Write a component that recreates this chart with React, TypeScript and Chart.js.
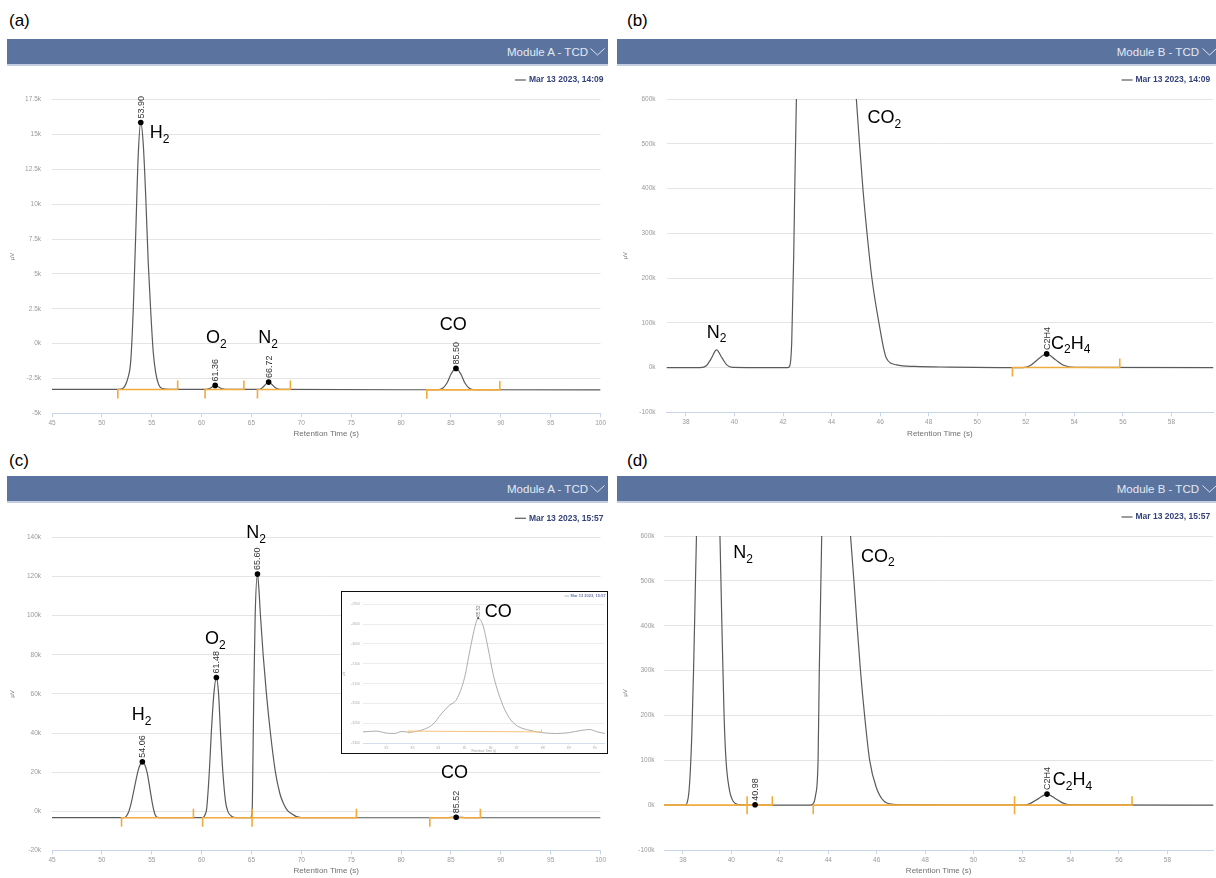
import React, { useEffect, useRef } from 'react';
import { Chart, registerables } from 'chart.js';

Chart.register(...registerables);

const FONT = '"Liberation Sans", Arial, Helvetica, sans-serif';

// ---------------- axes ----------------
const xTicksAC = [45, 50, 55, 60, 65, 70, 75, 80, 85, 90, 95, 100];
const xTicksBD = [38, 40, 42, 44, 46, 48, 50, 52, 54, 56, 58];
const xTicksInset = [82, 83, 84, 85, 86, 87, 88, 89, 90];

const yTicksA = [-5000, -2500, 0, 2500, 5000, 7500, 10000, 12500, 15000, 17500];
const yLabelsA = ['-5k', '-2.5k', '0k', '2.5k', '5k', '7.5k', '10k', '12.5k', '15k', '17.5k'];
const yTicksBD = [-100000, 0, 100000, 200000, 300000, 400000, 500000, 600000];
const yLabelsBD = ['-100k', '0k', '100k', '200k', '300k', '400k', '500k', '600k'];
const yTicksC = [-20000, 0, 20000, 40000, 60000, 80000, 100000, 120000, 140000];
const yLabelsC = ['-20k', '0k', '20k', '40k', '60k', '80k', '100k', '120k', '140k'];
const yTicksInset = [-3300, -3250, -3200, -3150, -3100, -3050, -3000, -2950];
const yLabelsInset = ['-3300', '-3250', '-3200', '-3150', '-3100', '-3050', '-3000', '-2950'];

// ---------------- panel (a) ----------------
const traceA = [
  [45, -3290], [51.5, -3290], [52.0, -3250], [52.3, -3050], [52.6, -2500], [52.9, -1200],
  [53.15, 2500], [53.4, 8000], [53.65, 13600], [53.9, 15860], [54.15, 14300], [54.4, 10500],
  [54.65, 5800], [54.9, 2300], [55.15, -600], [55.4, -2100], [55.7, -2950], [56.1, -3230],
  [56.8, -3290], [60.4, -3290], [60.8, -3230], [61.1, -3090], [61.36, -3000], [61.65, -3090],
  [62.0, -3230], [62.4, -3290], [65.8, -3290], [66.1, -3160], [66.4, -2940], [66.72, -2760],
  [67.05, -2940], [67.4, -3160], [67.9, -3290], [83.6, -3310], [84.2, -3180], [84.6, -2830],
  [85.0, -2200], [85.5, -1780], [86.0, -2200], [86.4, -2830], [86.8, -3180], [87.4, -3310],
  [100, -3320],
];
const peaksA = [[53.9, 15860], [61.36, -3000], [66.72, -2760], [85.5, -1780]];
const peakLabelsA = ['53.90', '61.36', '66.72', '85.50'];
const segmentsA = [
  [51.6, -3290, 57.6, -3290], [60.35, -3290, 64.24, -3290],
  [65.6, -3290, 68.9, -3290], [82.58, -3310, 89.9, -3320],
];
const namesA = ['H_2', 'O_2', 'N_2', 'CO'];
const namesAX = [54.8, 60.43, 65.68, 83.87];
const namesAY = [15100, 380, 380, 1320];

// ---------------- panel (b) ----------------
const traceB = [
  [37.2, 0], [38.59, 0], [38.84, 4000], [39.04, 20000], [39.26, 39500], [39.48, 22000],
  [39.68, 6000], [39.93, 300], [40.52, 0], [42.2, 0], [42.28, 4000], [42.36, 60000],
  [42.44, 250000], [42.49, 420000], [42.55, 600000], [42.69, 900000], [43.09, 1100000],
  [43.78, 1200000], [44.37, 1050000], [44.77, 800000], [45.02, 600000], [45.15, 500000],
  [45.29, 400000], [45.46, 300000], [45.66, 200000], [45.95, 100000], [46.25, 22000],
  [46.68, 6000], [47.43, 2500], [48.92, 1000], [50.89, 0], [51.88, 0], [52.17, 4000],
  [52.47, 17000], [52.86, 30500], [53.21, 18000], [53.56, 5000], [54.0, 300], [59.8, 0],
];
const peaksB = [[52.86, 30500]];
const peakLabelsB = ['C2H4'];
const segmentsB = [[51.45, 0, 55.87, 0]];
const namesB = ['N_2', 'CO_2', 'C_2H_4'];
const namesBX = [38.86, 45.48, 53.04];
const namesBY = [78000, 557000, 53000];

// ---------------- panel (c) ----------------
const traceC = [
  [45, -3250], [52.2, -3250], [52.4, -2800], [52.67, -500], [52.95, 4500], [53.3, 13000],
  [53.62, 20500], [53.85, 24000], [54.06, 25300], [54.28, 24000], [54.55, 19500],
  [54.85, 10500], [55.1, 3000], [55.3, -1200], [55.55, -3000], [56.0, -3250],
  [60.1, -3250], [60.25, -2700], [60.4, -1000], [60.5, 1000], [60.77, 20000], [60.97, 40000],
  [61.23, 60000], [61.48, 68400], [61.7, 60000], [61.9, 40000], [62.13, 20000], [62.4, 5000],
  [62.63, 0], [63.0, -2500], [63.5, -3200], [64.5, -3250], [64.95, -3250], [65.03, -1500],
  [65.07, 0], [65.13, 20000], [65.23, 60000], [65.37, 100000], [65.6, 121200],
  [65.75, 113000], [65.9, 100000], [66.17, 80000], [66.5, 60000], [66.9, 40000],
  [67.4, 20000], [67.85, 9000], [68.23, 3700], [68.6, 500], [69.07, -1400], [69.5, -2700],
  [70.0, -3200], [70.5, -3250], [83.5, -3265], [84.1, -3227], [84.7, -3189], [85.2, -3068],
  [85.52, -2985], [85.9, -3060], [86.4, -3193], [87.0, -3256], [88, -3270], [100, -3270],
];
const peaksC = [[54.06, 25300], [61.48, 68400], [65.6, 121200], [85.52, -2985]];
const peakLabelsC = ['54.06', '61.48', '65.60', '85.52'];
const segmentsC = [
  [51.97, -3250, 59.18, -3250], [60.1, -3250, 65.06, -3250],
  [65.06, -3250, 75.52, -3260], [82.88, -3265, 87.95, -3270],
];
const namesC = ['H_2', 'O_2', 'N_2', 'CO'];
const namesCX = [53.0, 60.33, 64.47, 84.0];
const namesCY = [49000, 88000, 142000, 19500];

// ---------------- inset (c) ----------------
const traceInset = [
  [81.1, -3272], [81.6, -3270], [82.0, -3275], [82.3, -3276], [82.6, -3271], [82.9, -3273],
  [83.2, -3270], [83.5, -3264], [83.8, -3252], [84.1, -3227], [84.4, -3206], [84.7, -3189],
  [85.0, -3135], [85.2, -3068], [85.4, -3006], [85.52, -2985], [85.7, -3002], [85.9, -3060],
  [86.1, -3127], [86.4, -3193], [86.7, -3235], [87.0, -3256], [87.5, -3268], [88.0, -3274],
  [88.5, -3276], [89.0, -3274], [89.5, -3268], [89.8, -3266], [90.1, -3272], [90.4, -3276],
];
const peaksInset = [[85.52, -2985]];
const peakLabelsInset = ['85.52'];
const segmentsInset = [[82.86, -3270, 87.95, -3272]];
const namesInset = ['CO'];
const namesInsetX = [85.77];
const namesInsetY = [-2969];

// ---------------- panel (d) ----------------
const traceD = [
  [37.2, 0], [38.1, 0], [38.18, 6000], [38.25, 30000], [38.31, 80000], [38.37, 160000],
  [38.44, 300000], [38.5, 450000], [38.56, 600000], [38.69, 850000], [39.04, 1000000],
  [39.33, 900000], [39.48, 700000], [39.53, 600000], [39.61, 400000], [39.7, 200000],
  [39.78, 100000], [39.9, 40000], [40.08, 8000], [40.32, 1000], [40.62, 0], [43.25, 0],
  [43.36, 2000], [43.47, 20000], [43.58, 100000], [43.63, 300000], [43.73, 600000],
  [43.9, 850000], [44.29, 1000000], [44.69, 780000], [44.92, 600000], [45.06, 500000],
  [45.19, 400000], [45.33, 300000], [45.5, 200000], [45.71, 100000], [45.98, 40000],
  [46.28, 10000], [46.67, 2000], [47.47, 500], [48.96, 0], [52.03, 0], [52.33, 3500],
  [52.68, 14500], [53.03, 24600], [53.37, 15000], [53.67, 5000], [53.99, 500], [60.0, 0],
];
const peaksD = [[40.98, 1000], [53.03, 24600]];
const peakLabelsD = ['40.98', 'C2H4'];
const segmentsD = [
  [37.0, 0, 40.65, 0], [40.65, 0, 41.69, 0], [43.38, 0, 51.69, 0], [51.69, 0, 56.54, 0],
];
const namesD = ['N_2', 'CO_2', 'C_2H_4'];
const namesDX = [40.08, 45.35, 53.27];
const namesDY = [561000, 554000, 56000];

// ---------------- helpers ----------------
function parseName(s: string): [string, boolean][] {
  const out: [string, boolean][] = [];
  for (let i = 0; i < s.length; i++) {
    if (s[i] === '_') { out.push([s[i + 1], true]); i++; } else out.push([s[i], false]);
  }
  return out;
}

const baseStyle = {
  traceColor: '#5a5a5a', traceWidth: 1.2, orange: '#f2aa3c', orangeW: 1.6, segTick: 9,
  dotR: 2.8, dotColor: '#000', peakColor: '#333', peakFont: `9px ${FONT}`, peakGap: 4,
  nameFont: `18px ${FONT}`, subFont: `12px ${FONT}`, subDy: 6.3,
  gridColor: '#e4e4e4', axisColor: '#c9d5e8', tickColor: '#9a9a9a', titleColor: '#707070',
  tickSize: 6.5, xTitleSize: 8, yTitleSize: 6, xTickLen: 4, xTickPad: 2,
  legendFont: `bold 8.5px ${FONT}`, legendColor: '#34427a', dashColor: '#666', dashW: 1.3,
  dashLen: 11, dashGap: 3,
};

function annotPlugin(spec: any, L: any) {
  return {
    id: 'chromAnnot',
    afterDatasetDraw(chart: any, args: any) {
      if (args.index !== 0) return;
      const { ctx, chartArea: ca, scales } = chart;
      const xs = scales.x, ys = scales.y;
      ctx.save();
      ctx.beginPath();
      ctx.rect(ca.left, ca.top, ca.right - ca.left, ca.bottom - ca.top);
      ctx.clip();
      ctx.strokeStyle = L.orange;
      ctx.lineWidth = L.orangeW;
      spec.segments.forEach(([x1, y1, x2, y2]: number[]) => {
        const a = xs.getPixelForValue(x1), b = ys.getPixelForValue(y1);
        const c = xs.getPixelForValue(x2), d = ys.getPixelForValue(y2);
        ctx.beginPath();
        ctx.moveTo(a, b); ctx.lineTo(c, d);
        ctx.moveTo(a, b - 0.7); ctx.lineTo(a, b + L.segTick);
        ctx.moveTo(c, d + 0.7); ctx.lineTo(c, d - L.segTick);
        ctx.stroke();
      });
      ctx.restore();
    },
    afterDatasetsDraw(chart: any) {
      const { ctx, chartArea: ca, scales } = chart;
      const xs = scales.x, ys = scales.y;
      ctx.save();
      ctx.textBaseline = 'middle';
      ctx.textAlign = 'left';
      ctx.fillStyle = L.peakColor;
      ctx.font = L.peakFont;
      spec.peaks.forEach(([x, y]: number[], i: number) => {
        const px = xs.getPixelForValue(x), py = ys.getPixelForValue(y);
        ctx.save();
        ctx.translate(px, py - L.peakGap);
        ctx.rotate(-Math.PI / 2);
        ctx.fillText(spec.peakLabels[i], 0, 0.5);
        ctx.restore();
      });
      ctx.fillStyle = '#000';
      spec.names.forEach((n: string, i: number) => {
        let px = xs.getPixelForValue(spec.namesX[i]);
        const py = ys.getPixelForValue(spec.namesY[i]);
        parseName(n).forEach(([ch, sub]) => {
          ctx.font = sub ? L.subFont : L.nameFont;
          ctx.fillText(ch, px, sub ? py + L.subDy : py);
          px += ctx.measureText(ch).width;
        });
      });
      ctx.font = L.legendFont;
      ctx.fillStyle = L.legendColor;
      ctx.textAlign = 'right';
      const lx = ca.right + L.legendDx, ly = ca.top - L.legendDy;
      ctx.fillText(spec.legend, lx, ly);
      const tw = ctx.measureText(spec.legend).width;
      ctx.strokeStyle = L.dashColor;
      ctx.lineWidth = L.dashW;
      ctx.beginPath();
      ctx.moveTo(lx - tw - L.dashGap - L.dashLen, ly);
      ctx.lineTo(lx - tw - L.dashGap, ly);
      ctx.stroke();
      ctx.restore();
    },
  };
}

function buildConfig(spec: any, L: any): any {
  return {
    type: 'line',
    data: {
      datasets: [
        {
          label: spec.legend,
          data: spec.trace.map(([x, y]: number[]) => ({ x, y })),
          borderColor: L.traceColor, borderWidth: L.traceWidth,
          pointRadius: 0, pointHoverRadius: 0, cubicInterpolationMode: 'monotone',
          fill: false, order: 1,
        },
        {
          label: 'peaks',
          data: spec.peaks.map(([x, y]: number[]) => ({ x, y })),
          showLine: false, pointRadius: L.dotR, pointHoverRadius: L.dotR,
          pointBackgroundColor: L.dotColor, pointBorderColor: L.dotColor, pointBorderWidth: 0,
          order: 0,
        },
      ],
    },
    options: {
      animation: false, responsive: false, maintainAspectRatio: false, devicePixelRatio: 1,
      events: [],
      layout: { padding: { left: 0, top: L.padTop, right: L.padRight, bottom: 0 } },
      plugins: { legend: { display: false }, tooltip: { enabled: false } },
      scales: {
        x: {
          type: 'linear', min: spec.xMin, max: spec.xMax,
          afterBuildTicks: (sc: any) => { sc.ticks = spec.xTicks.map((v: number) => ({ value: v })); },
          afterFit: (sc: any) => { sc.height = L.xAxisH; },
          ticks: {
            color: L.tickColor, font: { family: FONT, size: L.tickSize }, padding: L.xTickPad,
            maxRotation: 0, minRotation: 0, autoSkip: false, callback: (v: number) => String(v),
          },
          grid: { drawOnChartArea: false, drawTicks: true, tickLength: L.xTickLen, color: L.axisColor, lineWidth: 1 },
          border: { display: true, color: L.axisColor, width: 1 },
          title: {
            display: true, text: 'Retention Time (s)', color: L.titleColor,
            font: { family: FONT, size: L.xTitleSize }, padding: { top: 0, bottom: L.xTitlePad },
          },
        },
        y: {
          type: 'linear', min: spec.yMin, max: spec.yMax,
          afterBuildTicks: (sc: any) => { sc.ticks = spec.yTicks.map((v: number) => ({ value: v })); },
          afterFit: (sc: any) => { sc.width = L.yAxisW; },
          ticks: {
            color: L.tickColor, font: { family: FONT, size: L.tickSize }, padding: L.yLabelPad,
            callback: (v: number) => { const i = spec.yTicks.indexOf(v); return i >= 0 ? spec.yLabels[i] : ''; },
          },
          grid: { color: L.gridColor, lineWidth: 1, drawTicks: false },
          border: { display: false },
          title: {
            display: true, text: 'µV', color: L.titleColor,
            font: { family: FONT, size: L.yTitleSize }, padding: { top: L.yTitlePad, bottom: 0 },
          },
        },
      },
    },
    plugins: [annotPlugin(spec, L)],
  };
}

function ChromCanvas({ spec, L }: { spec: any; L: any }) {
  const ref = useRef<HTMLCanvasElement | null>(null);
  useEffect(() => {
    if (!ref.current) return;
    const chart = new Chart(ref.current, buildConfig(spec, L));
    return () => chart.destroy();
  }, []);
  return (
    <canvas
      ref={ref}
      width={L.w}
      height={L.h}
      style={{ position: 'absolute', left: L.left, top: L.top, width: L.w, height: L.h }}
    />
  );
}

function Header({ left, top, width, text, textRight, chevRight }: any) {
  return (
    <div
      style={{
        position: 'absolute', left, top, width, height: 25, background: '#5b749f',
        borderBottom: '2px solid #c4cee2', overflow: 'hidden',
      }}
    >
      <span
        style={{
          position: 'absolute', right: textRight, top: 0, lineHeight: '26px', fontSize: 11.5,
          color: '#e4e9f2', whiteSpace: 'nowrap', fontFamily: FONT,
        }}
      >
        {text}
      </span>
      <svg style={{ position: 'absolute', right: chevRight, top: 9 }} width="15" height="8">
        <polyline points="0.5,0.5 7.5,7 14.5,0.5" fill="none" stroke="#dde3ee" strokeWidth="1" />
      </svg>
    </div>
  );
}

function PanelLabel({ text, left, top }: any) {
  return (
    <div style={{ position: 'absolute', left, top, fontSize: 17, lineHeight: '20px', fontFamily: FONT, color: '#000' }}>
      {text}
    </div>
  );
}

// ---------------- specs & layouts ----------------
const specA = {
  trace: traceA, peaks: peaksA, peakLabels: peakLabelsA, segments: segmentsA,
  names: namesA, namesX: namesAX, namesY: namesAY, legend: 'Mar 13 2023, 14:09',
  xMin: 45, xMax: 100, xTicks: xTicksAC, yMin: -5000, yMax: 17500, yTicks: yTicksA, yLabels: yLabelsA,
};
const specB = {
  trace: traceB, peaks: peaksB, peakLabels: peakLabelsB, segments: segmentsB,
  names: namesB, namesX: namesBX, namesY: namesBY, legend: 'Mar 13 2023, 14:09',
  xMin: 37.2, xMax: 59.72, xTicks: xTicksBD, yMin: -100000, yMax: 600000, yTicks: yTicksBD, yLabels: yLabelsBD,
};
const specC = {
  trace: traceC, peaks: peaksC, peakLabels: peakLabelsC, segments: segmentsC,
  names: namesC, namesX: namesCX, namesY: namesCY, legend: 'Mar 13 2023, 15:57',
  xMin: 45, xMax: 100, xTicks: xTicksAC, yMin: -20000, yMax: 140000, yTicks: yTicksC, yLabels: yLabelsC,
};
const specD = {
  trace: traceD, peaks: peaksD, peakLabels: peakLabelsD, segments: segmentsD,
  names: namesD, namesX: namesDX, namesY: namesDY, legend: 'Mar 13 2023, 15:57',
  xMin: 37.22, xMax: 59.89, xTicks: xTicksBD, yMin: -100000, yMax: 600000, yTicks: yTicksBD, yLabels: yLabelsBD,
};
const specInset = {
  trace: traceInset, peaks: peaksInset, peakLabels: peakLabelsInset, segments: segmentsInset,
  names: namesInset, namesX: namesInsetX, namesY: namesInsetY, legend: 'Mar 13 2023, 15:57',
  xMin: 81.1, xMax: 90.38, xTicks: xTicksInset, yMin: -3300, yMax: -2950, yTicks: yTicksInset, yLabels: yLabelsInset,
};

const layA = {
  ...baseStyle, left: 0, top: 68, w: 608, h: 374, padTop: 31.7, padRight: 7, yAxisW: 52, xAxisH: 28.7,
  yLabelPad: 11, yTitlePad: 8.4, xTitlePad: 3.2, legendDx: 3, legendDy: 19.7,
};
const layB = {
  ...baseStyle, left: 612, top: 68, w: 604, h: 374, padTop: 31, padRight: 0, yAxisW: 54.5, xAxisH: 29.7,
  yLabelPad: 11, yTitlePad: 9.9, xTitlePad: 3.9, legendDx: -3, legendDy: 19,
};
const layC = {
  ...baseStyle, left: 0, top: 506, w: 608, h: 372, padTop: 31.3, padRight: 7, yAxisW: 52, xAxisH: 27.5,
  yLabelPad: 11, yTitlePad: 8.4, xTitlePad: 2.2, legendDx: 3, legendDy: 19,
};
const layD = {
  ...baseStyle, left: 612, top: 506, w: 604, h: 372, padTop: 30, padRight: 0, yAxisW: 52, xAxisH: 28,
  yLabelPad: 9.5, yTitlePad: 9.9, xTitlePad: 2.2, legendDx: -3, legendDy: 19,
};
const layInset = {
  ...baseStyle, left: 0, top: 0, w: 265, h: 161, padTop: 12.3, padRight: 2.3, yAxisW: 21, xAxisH: 10,
  yLabelPad: 3, yTitlePad: 0.6, xTitlePad: 0.3, legendDx: 1, legendDy: 8.3,
  traceColor: '#a3a3a3', traceWidth: 0.9, orange: '#f5c27a', orangeW: 1, segTick: 2.5,
  dotR: 1.1, dotColor: '#555', peakColor: '#777', peakFont: `4.5px ${FONT}`, peakGap: 1.5,
  gridColor: '#ececec', axisColor: '#d5deec', tickColor: '#b0b0b0', titleColor: '#a0a0a0',
  tickSize: 3.5, xTitleSize: 3, yTitleSize: 3, xTickLen: 1.5, xTickPad: 1,
  legendFont: `bold 4px ${FONT}`, legendColor: '#6a78b0', dashColor: '#999', dashW: 0.7,
  dashLen: 4.5, dashGap: 1.5,
};

export default function App() {
  return (
    <div
      style={{
        position: 'fixed', left: 0, top: 0, width: 1216, height: 878, overflow: 'hidden',
        background: '#fff', fontFamily: FONT,
      }}
    >
      <PanelLabel text="(a)" left={9} top={11} />
      <PanelLabel text="(b)" left={627} top={11} />
      <PanelLabel text="(c)" left={9} top={451} />
      <PanelLabel text="(d)" left={627} top={451} />

      <Header left={7} top={39} width={601} text="Module A - TCD" textRight={20} chevRight={3} />
      <Header left={617} top={39} width={601} text="Module B - TCD" textRight={19} chevRight={1} />
      <Header left={7} top={476} width={601} text="Module A - TCD" textRight={20} chevRight={3} />
      <Header left={617} top={476} width={601} text="Module B - TCD" textRight={19} chevRight={1} />

      <ChromCanvas spec={specA} L={layA} />
      <ChromCanvas spec={specB} L={layB} />
      <ChromCanvas spec={specC} L={layC} />
      <ChromCanvas spec={specD} L={layD} />

      <div
        style={{
          position: 'absolute', left: 341, top: 591, width: 267, height: 163,
          border: '1px solid #111', boxSizing: 'border-box', background: '#fff',
        }}
      >
        <ChromCanvas spec={specInset} L={layInset} />
      </div>
    </div>
  );
}
